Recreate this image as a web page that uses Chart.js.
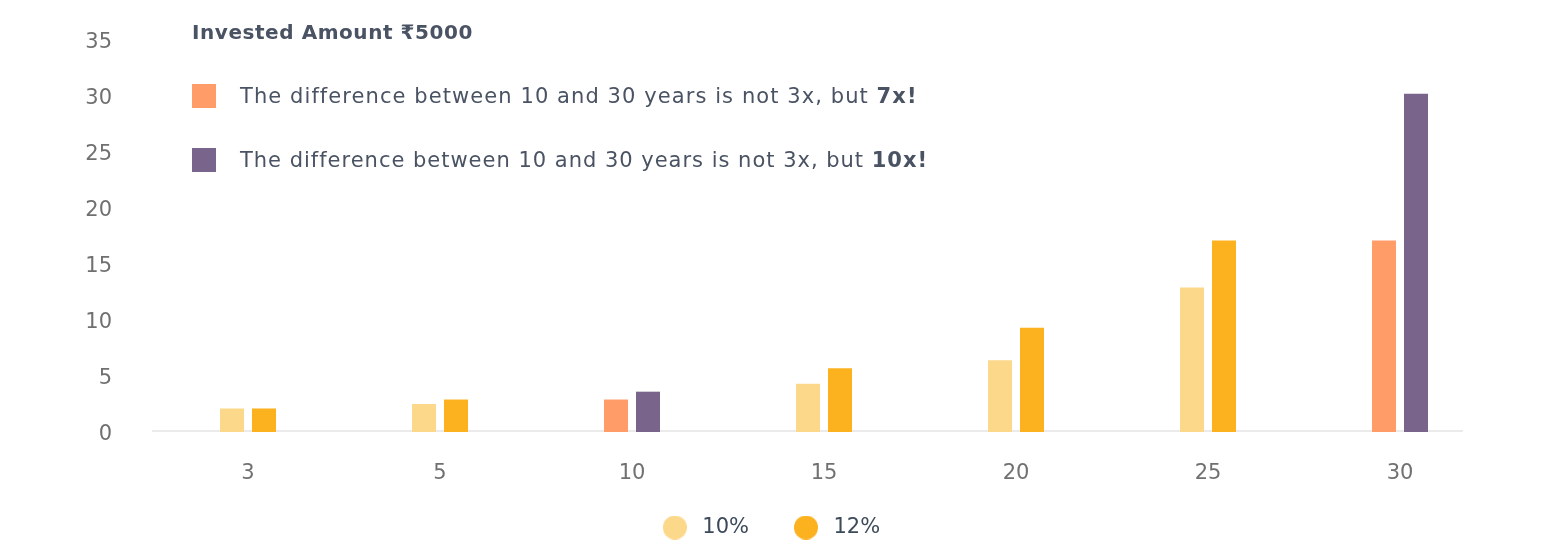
<!DOCTYPE html>
<html>
<head>
<meta charset="utf-8">
<script src="https://cdn.jsdelivr.net/npm/chart.js@4.4.0/dist/chart.umd.min.js"></script>
<style>
html,body{margin:0;padding:0;background:#ffffff;}
#wrap{position:relative;width:1544px;height:560px;overflow:hidden;}
canvas{display:block;}
.txt{position:absolute;font-family:'DejaVu Sans','Noto Sans',sans-serif;color:#4a5363;white-space:nowrap;}
.title{left:192px;top:18px;font-size:20px;font-weight:700;line-height:28px;}
.note{left:192px;font-size:21px;line-height:28px;}
.note .sq{position:absolute;left:0;top:2px;width:24px;height:24px;}
.t{position:absolute;left:0;top:0;}
.note .t{left:48px;}
.note b{font-weight:700;}
</style>
</head>
<body>
<div id="wrap">
  <canvas id="c" width="1544" height="560"></canvas>
  <div class="txt title"><span class="t" data-w="281">Invested Amount ₹5000</span></div>
  <div class="txt note" style="top:82px;"><span class="sq" style="background:#FF9C68"></span><span class="t" data-w="677">The difference between 10 and 30 years is not 3x, but <b>7x!</b></span></div>
  <div class="txt note" style="top:146px;"><span class="sq" style="background:#79658B"></span><span class="t" data-w="688">The difference between 10 and 30 years is not 3x, but <b>10x!</b></span></div>
</div>
<script>
// Years (categories)
const categories = ['3', '5', '10', '15', '20', '25', '30'];
// Series values
const rate10 = [2.1, 2.5, 2.9, 4.3, 6.4, 12.9, 17.1];
const rate12 = [2.1, 2.9, 3.6, 5.7, 9.3, 17.1, 30.2];
// Y tick values
const yTicks = [0, 5, 10, 15, 20, 25, 30, 35];
// Series labels
const seriesLabels = ['10%', '12%'];
// Highlighted categories (10 and 30 years)
const highlighted = ['10', '30'];

// widen the overlay texts to the reference widths
document.querySelectorAll('.t[data-w]').forEach(el => {
  const target = +el.dataset.w;
  const w = el.getBoundingClientRect().width;
  const n = el.textContent.length;
  el.style.letterSpacing = ((target - w) / n).toFixed(2) + 'px';
});

const col10 = '#FCD88A', col12 = '#FCB11F', colHiA = '#FF9C68', colHiB = '#79658B';
const colors10 = categories.map(c => highlighted.includes(c) ? colHiA : col10);
const colors12 = categories.map(c => highlighted.includes(c) ? colHiB : col12);

function dot(color) {
  const cv = document.createElement('canvas');
  cv.width = 24; cv.height = 24;
  const g = cv.getContext('2d');
  g.fillStyle = color;
  g.beginPath(); g.arc(12, 12, 12, 0, Math.PI * 2); g.fill();
  return cv;
}
const legendDots = [dot(col10), dot(col12)];

const baseline = {
  id: 'baseline',
  beforeDatasetsDraw(chart) {
    const {ctx, chartArea} = chart;
    ctx.save();
    ctx.strokeStyle = '#ebebeb';
    ctx.lineWidth = 2;
    ctx.beginPath();
    ctx.moveTo(chartArea.left, chartArea.bottom - 1);
    ctx.lineTo(chartArea.right - 33, chartArea.bottom - 1);
    ctx.stroke();
    ctx.restore();
  }
};

function noPad(scale) {
  scale.paddingTop = 0; scale.paddingBottom = 0;
  scale.paddingLeft = 0; scale.paddingRight = 0;
}

const FONT = "'DejaVu Sans','Noto Sans',sans-serif";

new Chart(document.getElementById('c'), {
  type: 'bar',
  data: {
    labels: categories,
    datasets: [
      {label: seriesLabels[0], data: rate10, backgroundColor: colors10, borderWidth: 0,
       categoryPercentage: 1 / 3, barPercentage: 0.75},
      {label: seriesLabels[1], data: rate12, backgroundColor: colors12, borderWidth: 0,
       categoryPercentage: 1 / 3, barPercentage: 0.75}
    ]
  },
  options: {
    responsive: false,
    animation: false,
    devicePixelRatio: 1,
    layout: {padding: {top: 40, right: 6, bottom: 12, left: 0}},
    plugins: {
      tooltip: {enabled: false},
      legend: {
        display: true,
        position: 'bottom',
        labels: {
          usePointStyle: true,
          pointStyleWidth: 34,
          boxHeight: 21,
          padding: 40,
          color: '#3d4a5a',
          font: {family: FONT, size: 21},
          generateLabels(chart) {
            return chart.data.datasets.map((ds, i) => ({
              text: ds.label,
              fillStyle: i === 0 ? col10 : col12,
              strokeStyle: i === 0 ? col10 : col12,
              lineWidth: 0,
              pointStyle: legendDots[i],
              hidden: false,
              datasetIndex: i,
              fontColor: '#3d4a5a'
            }));
          }
        }
      }
    },
    scales: {
      x: {
        grid: {display: false, drawTicks: false},
        border: {display: false},
        ticks: {color: '#707070', padding: 29, font: {family: FONT, size: 21}},
        afterFit(scale) {
          scale.height = 45;
          noPad(scale);
          scale._computeLabelArea = function () { return undefined; };
        }
      },
      y: {
        min: 0, max: 35,
        afterBuildTicks(scale) { scale.ticks = yTicks.map(v => ({value: v})); },
        grid: {display: false, drawTicks: false},
        border: {display: false},
        ticks: {color: '#707070', padding: 40, labelOffset: 2.5, font: {family: FONT, size: 21}},
        afterFit(scale) { scale.width = 152; noPad(scale); }
      },
      yRight: {
        position: 'right',
        display: true,
        grid: {display: false, drawTicks: false},
        border: {display: false},
        ticks: {display: false},
        afterFit(scale) { scale.width = 42; noPad(scale); }
      }
    }
  },
  plugins: [baseline]
});
</script>
</body>
</html>
